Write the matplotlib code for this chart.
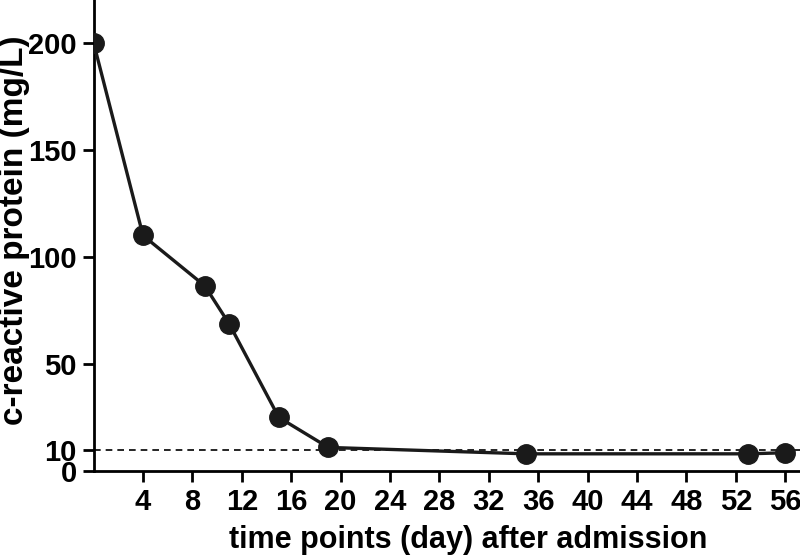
import matplotlib
matplotlib.use("Agg")
from matplotlib import pyplot as plt

# data
days = [0, 4, 9, 11, 15, 19, 35, 53, 56]
crp = [200, 110, 86.5, 68.5, 25, 11, 8, 8, 8.5]
xticks = list(range(4, 57, 4))
yticks = [0, 10, 50, 100, 150, 200]
threshold = 10

plt.rcParams['font.family'] = ['Liberation Sans', 'DejaVu Sans']
plt.rcParams['font.weight'] = 'bold'

fig = plt.figure(figsize=(8, 5.58), dpi=100)
ax = fig.add_axes([0.117, 0.156, 0.883, 0.844])

ax.axhline(threshold, color='black', linestyle=(0, (4, 3)), linewidth=1.2, zorder=1)
ax.plot(days, crp, color='#1a1a1a', linewidth=2.4, marker='o', markersize=14, zorder=3)

ax.set_xlim(0, 57.2)
ax.set_ylim(0, 220)
ax.set_xticks(xticks)
ax.set_yticks(yticks)
ax.tick_params(direction='out', length=8, width=2, labelsize=21, pad=4)
for lab in ax.get_xticklabels() + ax.get_yticklabels():
    lab.set_fontweight('bold')

ax.spines['top'].set_visible(False)
ax.spines['right'].set_visible(False)
ax.spines['left'].set_linewidth(2)
ax.spines['bottom'].set_linewidth(2)

ax.set_xlabel('time points (day) after admission', fontsize=22, fontweight='bold')
ax.xaxis.set_label_coords(0.53, -0.115)
ax.set_ylabel('c-reactive protein (mg/L)', fontsize=24, fontweight='bold')
ax.yaxis.set_label_coords(-0.09, 0.512)

fig.savefig('out.png', dpi=100)
